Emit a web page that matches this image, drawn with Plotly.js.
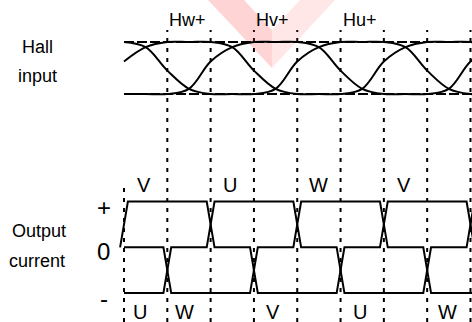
<!DOCTYPE html>
<html><head><meta charset="utf-8">
<script src="https://cdn.plot.ly/plotly-3.0.1.min.js"></script>
<style>html,body{margin:0;padding:0;background:#fff;} #chart{width:472px;height:322px;}</style>
</head><body><div id="chart"></div>
<script>
// ---- Hall sensor signals (normalised: +1 high, -1 low), read every half sector ----
const hallX = [0,0.5,1,1.5,2,2.5,3,3.5,4,4.5,5,5.5,6,6.5,7,7.5,8,8.5];
const hallU = [1,0.8,-0.1,-0.8,-1,-1,-1,-0.8,0.25,0.8,1,1,1,0.8,-0.1,-0.8,-1,-1];
const hallV = [-1,-1,-1,-0.8,0.25,0.8,1,1,1,0.8,-0.1,-0.8,-1,-1,-1,-0.8,0.25,0.8];
const hallW = [0.25,0.8,1,1,1,0.8,-0.1,-0.8,-1,-1,-1,-0.8,0.25,0.8,1,1,1,0.8];
const hallLabels = ['Hw+','Hv+','Hu+'];
const hallLabelSector = [1,3,5];

// ---- commutation sectors and phase current levels in each sector ----
const sectorStart = [-1,0,1,2,3,4,5,6,7,8];
const currentU = [-1,-1,0,1,1,0,-1,-1,0,1];
const currentV = [0,1,1,0,-1,-1,0,1,1,0];
const currentW = [0,0,-1,-1,0,1,1,0,-1,-1];
const posLabels = ['V','U','W','V'];
const posLabelSector = [0.46,2.45,4.48,6.46];
const negLabels = ['U','W','V','U','W'];
const negLabelSector = [0.37,1.39,3.44,5.45,7.46];
const levelLabels = ['+','0','-'];
const boundaries = [0,1,2,3,4,5,6,7,8];

// ---- styles ----
const W = 472, H = 322;
const FONT = 'Liberation Sans, Arial, sans-serif';
const RAMP = 0.09;
const PX0 = 124, PXU = 43.31;          // pixel of sector 0 and pixels per sector
const HALL_MID = 68, HALL_AMP = 26;     // pixels
const CUR_ZERO = 247.3, CUR_AMP = 45.8; // pixels

function phaseTrace(levels){
  const xs=[], ys=[];
  for(let i=1;i<levels.length;i++){
    const b = sectorStart[i];
    if(i===1){
      if(levels[1]!==levels[0]){ xs.push(b-RAMP,b+RAMP); ys.push(levels[0],levels[1]); }
      else { xs.push(b); ys.push(levels[1]); }
    } else if(levels[i]!==levels[i-1]){
      xs.push(b-RAMP,b+RAMP); ys.push(levels[i-1],levels[i]);
    }
  }
  xs.push(sectorStart[levels.length-1]+1); ys.push(levels[levels.length-1]);
  return {x:xs,y:ys,type:'scatter',mode:'lines',yaxis:'y2',
          line:{color:'#000',width:2},hoverinfo:'skip',showlegend:false};
}
function hallTrace(vals){
  return {x:hallX,y:vals,type:'scatter',mode:'lines',
          line:{color:'#000',width:2,shape:'spline',smoothing:1},hoverinfo:'skip',showlegend:false};
}
const traces = [hallTrace(hallU),hallTrace(hallV),hallTrace(hallW),
  phaseTrace(currentU),phaseTrace(currentV),phaseTrace(currentW)];

const px2paperX = p => p/W;
const py2paperY = p => 1 - p/H;

const shapes = [];
boundaries.forEach(b=>{
  shapes.push({type:'line',xref:'x',yref:'paper',x0:b,x1:b,y0:0,y1:py2paperY(b===0?187:30),
    line:{color:'#000',width:2,dash:'4px,6px'},layer:'below'});
});
[1,-1].forEach(v=>{
  shapes.push({type:'line',xref:'x',yref:'y',x0:0,x1:8.1,y0:v,y1:v,
    line:{color:'#000',width:1.8,dash:'10px,3px'},layer:'below'});
});
function pathFrom(pts){
  return 'M' + pts.map(p=>px2paperX(p[0]).toFixed(4)+','+py2paperY(p[1]).toFixed(4)).join(' L') + ' Z';
}
shapes.push({type:'path',xref:'paper',yref:'paper',layer:'below',
  path:pathFrom([[208,0],[244,0],[272,30],[272,68]]),
  fillcolor:'rgba(255,40,40,0.2)',line:{width:0}});
shapes.push({type:'path',xref:'paper',yref:'paper',layer:'below',
  path:pathFrom([[272,30],[300,0],[335,0],[272,68]]),
  fillcolor:'rgba(255,40,40,0.11)',line:{width:0}});

const annotations = [];
function ann(text,px,py,size,extra){
  return Object.assign({text,xref:'paper',yref:'paper',x:px2paperX(px),y:py2paperY(py),
    xanchor:'center',yanchor:'middle',showarrow:false,
    font:{family:FONT,size,color:'#000'}},extra||{});
}
annotations.push(ann('Hall',37.5,46.5,18));
annotations.push(ann('input',37,76,18));
annotations.push(ann('Output',38.5,231,18));
annotations.push(ann('current',37,261,18));
const levelPy = [207,251.5,298];
levelLabels.forEach((t,i)=>annotations.push(ann(t,103.5,levelPy[i],24)));
hallLabels.forEach((t,i)=>annotations.push({text:t,xref:'x',yref:'paper',x:hallLabelSector[i],
  y:py2paperY(19.5),xanchor:'left',yanchor:'middle',showarrow:false,
  font:{family:FONT,size:18,color:'#000'}}));
posLabels.forEach((t,i)=>annotations.push({text:t,xref:'x',yref:'paper',x:posLabelSector[i],
  y:py2paperY(184.5),xanchor:'center',yanchor:'middle',showarrow:false,
  font:{family:FONT,size:20,color:'#000'}}));
negLabels.forEach((t,i)=>annotations.push({text:t,xref:'x',yref:'paper',x:negLabelSector[i],
  y:py2paperY(312),xanchor:'center',yanchor:'middle',showarrow:false,
  font:{family:FONT,size:20,color:'#000'}}));

const layout = {
  width:W,height:H,margin:{l:0,r:0,t:0,b:0},paper_bgcolor:'#fff',plot_bgcolor:'#fff',
  showlegend:false,
  xaxis:{range:[-PX0/PXU,(W-PX0)/PXU],visible:false,fixedrange:true},
  yaxis:{range:[(HALL_MID-H)/HALL_AMP,HALL_MID/HALL_AMP],visible:false,fixedrange:true},
  yaxis2:{range:[(CUR_ZERO-H)/CUR_AMP,CUR_ZERO/CUR_AMP],overlaying:'y',visible:false,fixedrange:true},
  shapes,annotations
};
Plotly.newPlot('chart',traces,layout,{staticPlot:true,displayModeBar:false});
</script></body></html>
